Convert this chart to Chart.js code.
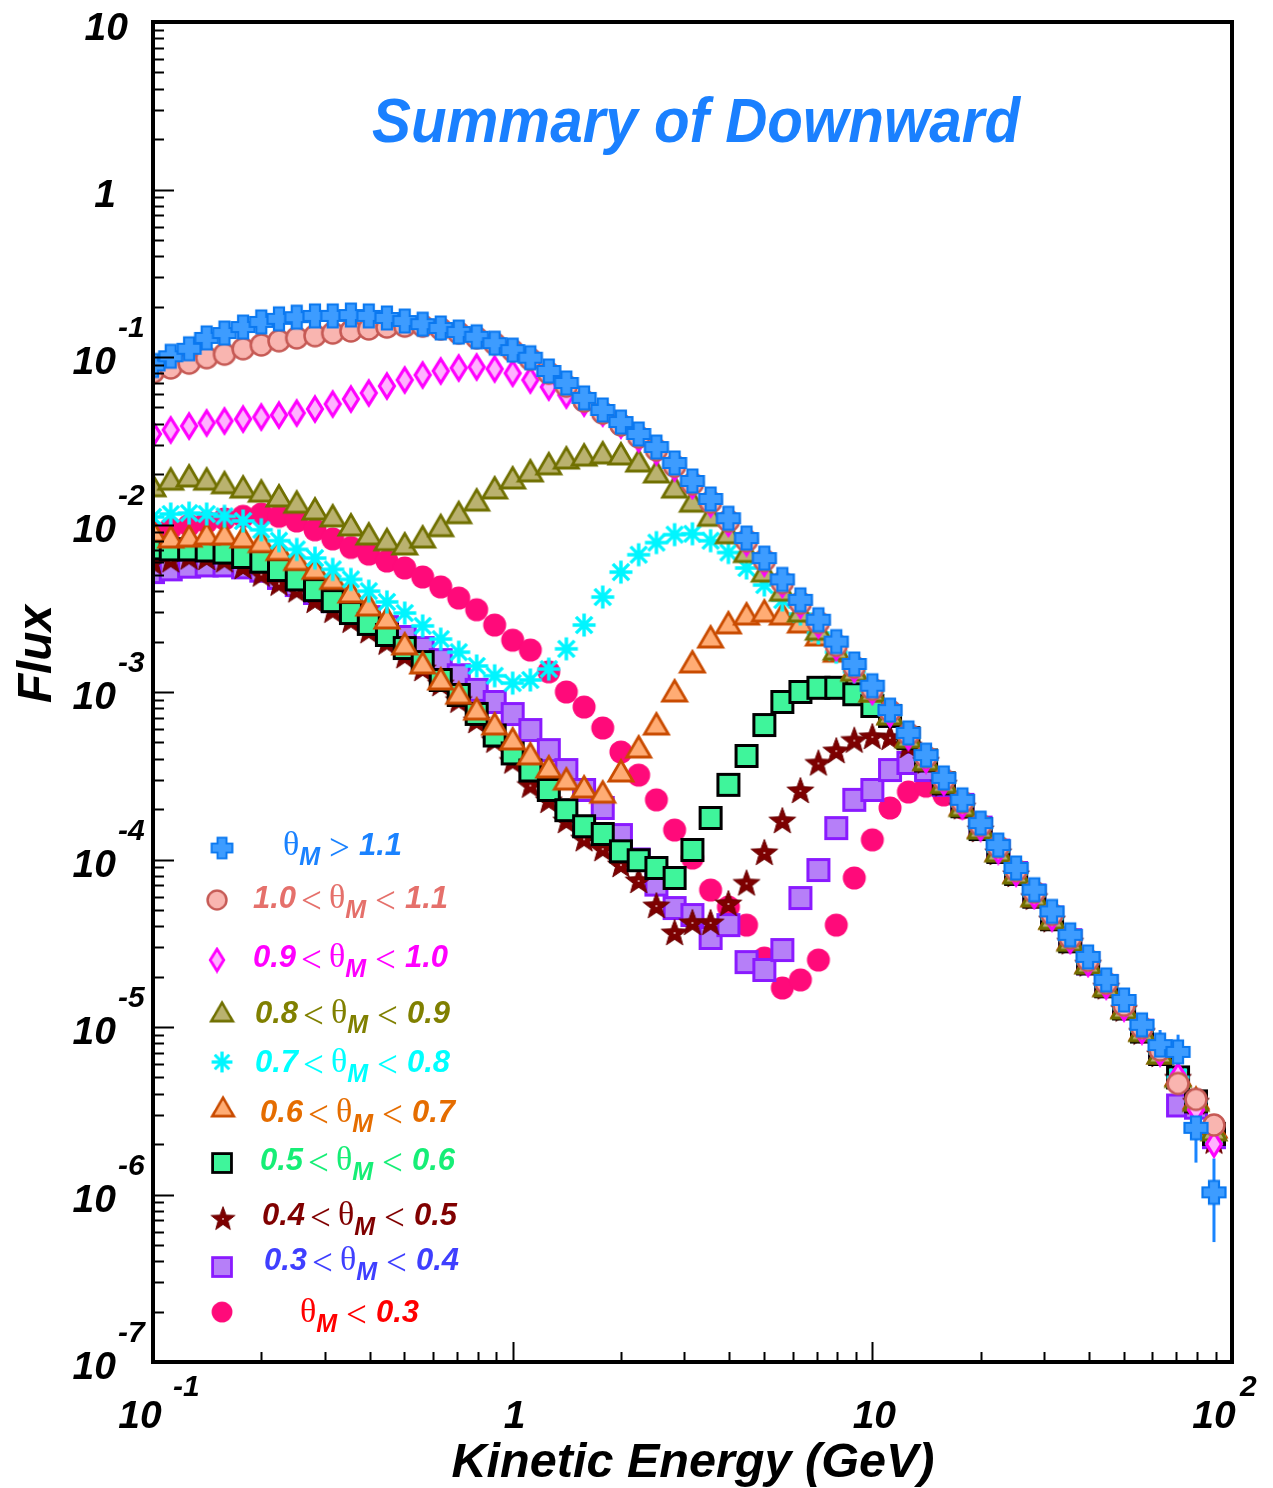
<!DOCTYPE html>
<html>
<head>
<meta charset="utf-8">
<title>Summary of Downward</title>
<script src="https://cdn.jsdelivr.net/npm/chart.js@4.4.1/dist/chart.umd.min.js"></script>
<style>
  html, body { margin: 0; padding: 0; background: #fff; }
  canvas { display: block; }
</style>
</head>
<body>
<canvas id="fluxChart" width="1273" height="1488"></canvas>
<script>
// kinetic energy bin centres (GeV), shared by every theta_M selection
const energy = [
  0.100, 0.112, 0.126, 0.141, 0.158, 0.178, 0.200, 0.224, 0.251, 0.282,
  0.316, 0.355, 0.398, 0.447, 0.501, 0.562, 0.631, 0.708, 0.794, 0.891,
  1.00, 1.12, 1.26, 1.41, 1.58, 1.78, 2.00, 2.24, 2.51, 2.82,
  3.16, 3.55, 3.98, 4.47, 5.01, 5.62, 6.31, 7.08, 7.94, 8.91,
  10.0, 11.2, 12.6, 14.1, 15.8, 17.8, 20.0, 22.4, 25.1, 28.2,
  31.6, 35.5, 39.8, 44.7, 50.1, 56.2, 63.1, 70.8, 79.4, 89.1
];

// downward flux per theta_M bin
const fluxGt11 = [
  0.089, 0.101, 0.112, 0.130, 0.139, 0.151, 0.162, 0.169, 0.173, 0.176,
  0.176, 0.178, 0.176, 0.171, 0.164, 0.157, 0.149, 0.141, 0.132, 0.121,
  0.110, 0.099, 0.0825, 0.070, 0.0570, 0.0483, 0.0409, 0.0347, 0.0290, 0.0233,
  0.0182, 0.0142, 0.0109, 0.0083, 0.0063, 0.0047, 0.00355, 0.0027, 0.0020, 0.00147,
  1.09e-3, 7.8e-4, 5.7e-4, 4.2e-4, 3.07e-4, 2.27e-4, 1.65e-4, 1.22e-4, 8.9e-5, 6.6e-5,
  4.9e-5, 3.55e-5, 2.62e-5, 1.91e-5, 1.45e-5, 1.03e-5, 7.8e-6, 7.1e-6, 2.5e-6, 1.03e-6
];
const flux10to11 = [
  0.081, 0.086, 0.092, 0.099, 0.104, 0.112, 0.118, 0.125, 0.130, 0.134,
  0.139, 0.143, 0.147, 0.151, 0.153, 0.153, 0.147, 0.139, 0.130, 0.120,
  0.109, 0.097, 0.080, 0.067, 0.0546, 0.0463, 0.0393, 0.0333, 0.0279, 0.0223,
  0.0175, 0.0136, 0.0105, 0.0080, 0.0061, 0.0045, 0.0034, 0.0026, 0.0019, 0.00141,
  1.04e-3, 7.7e-4, 5.6e-4, 4.1e-4, 3.0e-4, 2.2e-4, 1.6e-4, 1.19e-4, 8.6e-5, 6.4e-5,
  4.7e-5, 3.4e-5, 2.5e-5, 1.83e-5, 1.35e-5, 9.9e-6, 7.3e-6, 4.6e-6, 3.7e-6, 2.6e-6
];
const flux09to10 = [
  0.0347, 0.0367, 0.0387, 0.0404, 0.0415, 0.0426, 0.0438, 0.0450, 0.0463, 0.0489,
  0.0524, 0.0561, 0.0610, 0.0671, 0.0729, 0.0781, 0.0825, 0.0860, 0.0872, 0.0849,
  0.0800, 0.0729, 0.0662, 0.0593, 0.0531, 0.0463, 0.0393, 0.0325, 0.0272, 0.0218,
  0.0171, 0.0133, 0.0102, 0.0078, 0.0059, 0.0044, 0.0033, 0.00252, 0.00185, 0.00137,
  1.01e-3, 7.4e-4, 5.4e-4, 3.95e-4, 2.9e-4, 2.1e-4, 1.55e-4, 1.13e-4, 8.3e-5, 6.1e-5,
  4.5e-5, 3.3e-5, 2.4e-5, 1.76e-5, 1.3e-5, 9.5e-6, 7.0e-6, 5.1e-6, 3.2e-6, 2.0e-6
];
const flux08to09 = [
  0.0168, 0.0184, 0.0192, 0.0184, 0.0175, 0.0165, 0.0156, 0.0146, 0.0134, 0.0122,
  0.0111, 0.0098, 0.00865, 0.0080, 0.00755, 0.0083, 0.0097, 0.0116, 0.0138, 0.0163,
  0.0187, 0.0206, 0.0227, 0.0246, 0.0256, 0.0264, 0.0260, 0.0236, 0.0203, 0.0165,
  0.0136, 0.0112, 0.0088, 0.0068, 0.0052, 0.0040, 0.0030, 0.00234, 0.00178, 0.00133,
  1.0e-3, 7.3e-4, 5.3e-4, 3.9e-4, 2.85e-4, 2.07e-4, 1.52e-4, 1.11e-4, 8.2e-5, 6.0e-5,
  4.4e-5, 3.25e-5, 2.38e-5, 1.74e-5, 1.28e-5, 9.4e-6, 6.9e-6, 5.0e-6, 3.6e-6, 2.4e-6
];
const flux07to08 = [
  0.0111, 0.01155, 0.0117, 0.01155, 0.0112, 0.0105, 0.0093, 0.0080, 0.0071, 0.0063,
  0.0054, 0.0047, 0.0040, 0.00345, 0.00296, 0.00248, 0.00207, 0.00173, 0.00143, 0.00125,
  0.00113, 0.00118, 0.00137, 0.00181, 0.00251, 0.00369, 0.0052, 0.0066, 0.0078, 0.0087,
  0.0088, 0.0080, 0.0068, 0.0055, 0.00435, 0.00354, 0.00292, 0.00225, 0.00173, 0.00132,
  9.9e-4, 7.3e-4, 5.35e-4, 3.9e-4, 2.88e-4, 2.1e-4, 1.53e-4, 1.12e-4, 8.2e-5, 6.1e-5,
  4.45e-5, 3.3e-5, 2.4e-5, 1.75e-5, 1.29e-5, 9.5e-6, 7.0e-6, 5.0e-6, 3.6e-6, 2.2e-6
];
const flux06to07 = [
  0.0090, 0.0083, 0.0084, 0.00865, 0.00865, 0.0083, 0.0078, 0.0070, 0.0061, 0.0054,
  0.0047, 0.0039, 0.00326, 0.00273, 0.00191, 0.00147, 0.00118, 9.7e-4, 7.8e-4, 6.35e-4,
  5.17e-4, 4.21e-4, 3.52e-4, 2.98e-4, 2.67e-4, 2.49e-4, 3.33e-4, 4.63e-4, 6.35e-4, 1.0e-3,
  0.00149, 0.0021, 0.00255, 0.00288, 0.0030, 0.00288, 0.00258, 0.00216, 0.00173, 0.00135,
  1.0e-3, 7.35e-4, 5.4e-4, 3.9e-4, 2.87e-4, 2.1e-4, 1.54e-4, 1.12e-4, 8.3e-5, 6.0e-5,
  4.4e-5, 3.3e-5, 2.4e-5, 1.75e-5, 1.3e-5, 9.5e-6, 6.9e-6, 5.1e-6, 3.7e-6, 2.5e-6
];
const flux05to06 = [
  0.0072, 0.0071, 0.0071, 0.0070, 0.0068, 0.0064, 0.0060, 0.00535, 0.0047, 0.00406,
  0.00349, 0.00296, 0.00255, 0.00219, 0.00183, 0.00151, 0.00118, 9.6e-4, 7.4e-4, 5.5e-4,
  4.3e-4, 3.4e-4, 2.6e-4, 1.97e-4, 1.58e-4, 1.42e-4, 1.12e-4, 9.9e-5, 8.9e-5, 7.76e-5,
  1.14e-4, 1.77e-4, 2.79e-4, 4.15e-4, 6.35e-4, 8.72e-4, 1.0e-3, 1.06e-3, 1.06e-3, 9.7e-4,
  8.25e-4, 7.2e-4, 5.3e-4, 3.9e-4, 2.85e-4, 2.08e-4, 1.52e-4, 1.11e-4, 8.2e-5, 6.0e-5,
  4.4e-5, 3.25e-5, 2.4e-5, 1.75e-5, 1.29e-5, 9.4e-6, 6.9e-6, 5.0e-6, 3.6e-6, 2.3e-6
];
const flux04to05 = [
  0.0060, 0.0062, 0.00645, 0.0064, 0.0062, 0.00565, 0.0051, 0.0045, 0.0041, 0.00355,
  0.0031, 0.0027, 0.00234, 0.0020, 0.00166, 0.00139, 0.00113, 9.0e-4, 6.8e-4, 5.2e-4,
  3.9e-4, 2.8e-4, 2.27e-4, 1.72e-4, 1.34e-4, 1.17e-4, 9.4e-5, 7.55e-5, 5.35e-5, 3.69e-5,
  4.24e-5, 4.24e-5, 5.5e-5, 7.3e-5, 1.11e-4, 1.72e-4, 2.6e-4, 3.8e-4, 4.5e-4, 5.2e-4,
  5.46e-4, 5.4e-4, 4.83e-4, 3.9e-4, 2.85e-4, 2.08e-4, 1.52e-4, 1.11e-4, 8.2e-5, 6.0e-5,
  4.4e-5, 3.25e-5, 2.4e-5, 1.75e-5, 1.29e-5, 9.4e-6, 6.9e-6, 5.0e-6, 3.6e-6, 2.1e-6
];
const flux03to04 = [
  0.0052, 0.0054, 0.0056, 0.0057, 0.0057, 0.00555, 0.0053, 0.0048, 0.00435, 0.0039,
  0.00349, 0.00313, 0.0028, 0.00244, 0.00213, 0.00183, 0.00155, 0.00126, 0.00103, 8.72e-4,
  7.39e-4, 5.93e-4, 4.5e-4, 3.42e-4, 2.6e-4, 2.03e-4, 1.4e-4, 1.0e-4, 7.08e-5, 5.13e-5,
  4.66e-5, 3.4e-5, 4.06e-5, 2.44e-5, 2.19e-5, 2.88e-5, 5.89e-5, 8.65e-5, 1.54e-4, 2.27e-4,
  2.6e-4, 3.42e-4, 3.77e-4, 3.42e-4, 2.79e-4, 2.12e-4, 1.55e-4, 1.13e-4, 8.3e-5, 6.1e-5,
  4.5e-5, 3.3e-5, 2.4e-5, 1.76e-5, 1.3e-5, 9.5e-6, 7.0e-6, 3.4e-6, 3.3e-6, 2.2e-6
];
const fluxLt03 = [
  0.0090, 0.0095, 0.0099, 0.01035, 0.0108, 0.0112, 0.01155, 0.0112, 0.0105, 0.0093,
  0.0082, 0.0073, 0.00666, 0.00605, 0.0055, 0.00486, 0.00424, 0.00364, 0.0031, 0.00251,
  0.00204, 0.00178, 0.00132, 0.0010, 8.13e-4, 6.1e-4, 4.38e-4, 3.19e-4, 2.27e-4, 1.5e-4,
  1.02e-4, 6.57e-5, 5.2e-5, 4.06e-5, 2.58e-5, 1.71e-5, 1.91e-5, 2.51e-5, 4.06e-5, 7.76e-5,
  1.31e-4, 2.03e-4, 2.53e-4, 2.74e-4, 2.43e-4, 2.03e-4, 1.52e-4, 1.11e-4, 8.2e-5, 6.0e-5,
  4.4e-5, 3.25e-5, 2.4e-5, 1.75e-5, 1.29e-5, 9.4e-6, 6.9e-6, 5.0e-6, 3.6e-6, 2.4e-6
];

// vertical error bars on the last theta_M > 1.1 bins
const errIndex = [56, 57, 58, 59];
const errLow = [6.2e-6, 5.4e-6, 1.55e-6, 5.2e-7];
const errHigh = [9.6e-6, 9.0e-6, 3.4e-6, 1.64e-6];

// theta_M cuts for the legend
const cutLow = ['1.1', '1.0', '0.9', '0.8', '0.7', '0.6', '0.5', '0.4', '0.3', null];
const cutHigh = [null, '1.1', '1.0', '0.9', '0.8', '0.7', '0.6', '0.5', '0.4', '0.3'];
const seriesFlux = [fluxGt11, flux10to11, flux09to10, flux08to09, flux07to08,
                    flux06to07, flux05to06, flux04to05, flux03to04, fluxLt03];

// ---- marker bitmaps ----
function markerCanvas(size, paint) {
  const c = document.createElement('canvas');
  c.width = size;
  c.height = size;
  const g = c.getContext('2d');
  g.translate(size / 2, size / 2);
  paint(g);
  return c;
}

function poly(g, pts) {
  g.beginPath();
  pts.forEach(([x, y], i) => (i ? g.lineTo(x, y) : g.moveTo(x, y)));
  g.closePath();
}

function fillStroke(g, fill, stroke, lw) {
  if (fill) { g.fillStyle = fill; g.fill(); }
  if (stroke) { g.lineWidth = lw; g.strokeStyle = stroke; g.stroke(); }
}

function triangle(fill, stroke) {
  return markerCanvas(30, g => {
    poly(g, [[0, -11.5], [12, 9], [-12, 9]]);
    fillStroke(g, fill, stroke, 2.8);
  });
}

function square(fill, stroke) {
  return markerCanvas(28, g => {
    g.beginPath();
    g.rect(-10.5, -10.5, 21, 21);
    fillStroke(g, fill, stroke, 3);
  });
}

const plusMark = markerCanvas(28, g => {
  const a = 5, l = 11.5;
  poly(g, [[-a, -l], [a, -l], [a, -a], [l, -a], [l, a], [a, a], [a, l], [-a, l],
           [-a, a], [-l, a], [-l, -a], [-a, -a]]);
  fillStroke(g, '#3d9cff', '#0a78f0', 2.2);
});

const ringMark = markerCanvas(28, g => {
  g.beginPath();
  g.arc(0, 0, 10.5, 0, Math.PI * 2);
  fillStroke(g, '#f9b5b0', '#c65a55', 2.6);
});

const diamondMark = markerCanvas(30, g => {
  poly(g, [[0, -12], [7.5, 0], [0, 12], [-7.5, 0]]);
  fillStroke(g, '#ffb2ff', '#ff00ff', 3.2);
});

const asteriskMark = markerCanvas(30, g => {
  g.strokeStyle = '#00f5ff';
  g.lineWidth = 3.5;
  g.beginPath();
  for (let k = 0; k < 4; k++) {
    const a = k * Math.PI / 4;
    g.moveTo(-11.5 * Math.cos(a), -11.5 * Math.sin(a));
    g.lineTo(11.5 * Math.cos(a), 11.5 * Math.sin(a));
  }
  g.stroke();
});

const starMark = markerCanvas(32, g => {
  const pts = [];
  for (let k = 0; k < 10; k++) {
    const r = k % 2 ? 5.8 : 14;
    const a = -Math.PI / 2 + k * Math.PI / 5;
    pts.push([r * Math.cos(a), r * Math.sin(a) + 1.5]);
  }
  poly(g, pts);
  fillStroke(g, '#7d0000', '#6a0000', 1);
  g.fillStyle = '#c98a8a';
  g.fillRect(-1, 0, 2, 2);
});

const dotMark = markerCanvas(28, g => {
  g.beginPath();
  g.arc(0, 0, 11.5, 0, Math.PI * 2);
  fillStroke(g, '#ff0a7a', null, 0);
});

const seriesMarker = [plusMark, ringMark, diamondMark,
  triangle('#bab26f', '#707000'), asteriskMark, triangle('#ffac74', '#c94b00'),
  square('#3ff59b', '#000000'), starMark, square('#b67ff8', '#8a1aff'), dotMark];

const legendColor = ['#1a82ff', '#e5706b', '#ff00ff', '#808000', '#00ffff',
                     '#e56d00', '#16ee76', '#800000', '#3f3fff', '#ff0000'];

// legend layout: symbol centre, text start, text baseline
const legendRows = [
  { sx: 222, sy: 848, tx: 283, ty: 855 },
  { sx: 217, sy: 900, tx: 253, ty: 908 },
  { sx: 217, sy: 960, tx: 253, ty: 967 },
  { sx: 222, sy: 1013, tx: 255, ty: 1023 },
  { sx: 222, sy: 1062, tx: 255, ty: 1072 },
  { sx: 223, sy: 1108, tx: 260, ty: 1122 },
  { sx: 222, sy: 1163, tx: 260, ty: 1170 },
  { sx: 223, sy: 1218, tx: 262, ty: 1225 },
  { sx: 222, sy: 1267, tx: 264, ty: 1270 },
  { sx: 222, sy: 1312, tx: 300, ty: 1322 }
];

const SANS = '"Liberation Sans", Arial, Helvetica, sans-serif';
const SERIF = '"Liberation Serif", "Times New Roman", serif';

function fitText(ctx, text, cx, y, width) {
  const w = ctx.measureText(text).width;
  ctx.save();
  ctx.translate(cx, y);
  ctx.scale(width / w, 1);
  ctx.textAlign = 'center';
  ctx.fillText(text, 0, 0);
  ctx.restore();
}

// draws pieces left to right: [font, text, dy, gap after]
function drawRun(ctx, x, y, parts) {
  ctx.textAlign = 'left';
  for (const [font, text, dy, gap] of parts) {
    ctx.font = font;
    ctx.fillText(text, x, y + (dy || 0));
    x += ctx.measureText(text).width + (gap || 0);
  }
}

const fNum = 'italic bold 31px ' + SANS;
const fRel = '37px ' + SERIF;
const fTheta = '34px ' + SERIF;
const fSub = 'italic bold 25px ' + SANS;

const decorations = {
  id: 'decorations',
  beforeDraw(chart) {
    const ctx = chart.ctx;
    ctx.save();
    ctx.fillStyle = '#ffffff';
    ctx.fillRect(0, 0, chart.width, chart.height);
    ctx.restore();
  },
  beforeDatasetsDraw(chart) {
    const ctx = chart.ctx;
    const xs = chart.scales.x, ys = chart.scales.y;
    ctx.save();
    ctx.strokeStyle = '#1a85ff';
    ctx.lineWidth = 3;
    errIndex.forEach((idx, k) => {
      const x = xs.getPixelForValue(energy[idx]);
      ctx.beginPath();
      ctx.moveTo(x, ys.getPixelForValue(errLow[k]));
      ctx.lineTo(x, ys.getPixelForValue(errHigh[k]));
      ctx.stroke();
    });
    ctx.restore();
  },
  afterDraw(chart) {
    const ctx = chart.ctx;
    const { left, right, top, bottom } = chart.chartArea;
    const xs = chart.scales.x, ys = chart.scales.y;
    ctx.save();

    // inward ticks on the left and bottom axes
    ctx.strokeStyle = '#000';
    ctx.lineWidth = 2;
    ctx.beginPath();
    for (let e = -7; e <= 0; e++) {
      for (let m = 1; m <= 9; m++) {
        const y = Math.round(ys.getPixelForValue(m * Math.pow(10, e))) + 0.5;
        ctx.moveTo(left, y);
        ctx.lineTo(left + (m === 1 ? 21 : 11), y);
      }
    }
    for (let e = -1; e <= 1; e++) {
      for (let m = 1; m <= 9; m++) {
        const x = Math.round(xs.getPixelForValue(m * Math.pow(10, e))) + 0.5;
        ctx.moveTo(x, bottom);
        ctx.lineTo(x, bottom - (m === 1 ? 20 : 10));
      }
    }
    ctx.stroke();

    // frame
    ctx.lineWidth = 4;
    ctx.strokeRect(left, top, right - left, bottom - top);

    // y tick labels
    ctx.fillStyle = '#000';
    const fBase = 'italic bold 39px ' + SANS;
    const fExp = 'italic bold 30px ' + SANS;
    for (let e = -7; e <= 1; e++) {
      const y = ys.getPixelForValue(Math.pow(10, e));
      ctx.font = fBase;
      ctx.textAlign = 'right';
      if (e === 1) {
        ctx.fillText('10', 128, y + 18);
      } else if (e === 0) {
        ctx.fillText('1', 116, y + 17);
      } else {
        ctx.fillText('10', 116, y + 17);
        ctx.font = fExp;
        ctx.textAlign = 'left';
        ctx.fillText(String(e), 118, y - 20);
      }
    }

    // x tick labels
    const xl = bottom + 66, xe = bottom + 34;
    ctx.font = fBase;
    ctx.textAlign = 'center';
    ctx.fillText('10', xs.getPixelForValue(0.1) - 13, xl);
    ctx.fillText('1', xs.getPixelForValue(1) + 2, xl);
    ctx.fillText('10', xs.getPixelForValue(10) + 2, xl);
    ctx.fillText('10', xs.getPixelForValue(100) - 18, xl);
    ctx.font = fExp;
    ctx.textAlign = 'left';
    ctx.fillText('-1', xs.getPixelForValue(0.1) + 20, xe);
    ctx.fillText('2', xs.getPixelForValue(100) + 8, xe);

    // title and axis titles
    ctx.fillStyle = '#1a80ff';
    ctx.font = 'italic bold 63px ' + SANS;
    fitText(ctx, 'Summary of Downward', 696, 142, 648);

    ctx.fillStyle = '#000';
    ctx.font = 'italic bold 49px ' + SANS;
    fitText(ctx, 'Kinetic Energy (GeV)', 693, 1477, 483);

    ctx.save();
    ctx.translate(51, 654);
    ctx.rotate(-Math.PI / 2);
    ctx.font = 'italic bold 48px ' + SANS;
    fitText(ctx, 'Flux', 0, 0, 98);
    ctx.restore();

    // legend
    legendRows.forEach((row, i) => {
      const img = seriesMarker[i];
      ctx.save();
      ctx.translate(row.sx, row.sy);
      ctx.scale(0.9, 0.9);
      ctx.drawImage(img, -img.width / 2, -img.height / 2);
      ctx.restore();
      ctx.fillStyle = legendColor[i];
      const parts = [];
      if (cutLow[i] && cutHigh[i]) {
        parts.push([fNum, cutLow[i], 0, 5], [fRel, '<', 5, 7]);
      }
      parts.push([fTheta, 'θ', 0, 0], [fSub, 'M', 10, 9]);
      if (!cutHigh[i]) {
        parts.push([fRel, '>', 5, 9], [fNum, cutLow[i], 0, 0]);
      } else {
        parts.push([fRel, '<', 5, 9], [fNum, cutHigh[i], 0, 0]);
      }
      drawRun(ctx, row.tx, row.ty, parts);
    });

    ctx.restore();
  }
};

const datasets = seriesFlux.map((flux, i) => ({
  label: (cutLow[i] || '') + '-' + (cutHigh[i] || ''),
  data: energy.map((e, k) => ({ x: e, y: flux[k] })),
  pointStyle: seriesMarker[i],
  pointRadius: 11,
  pointHoverRadius: 11,
  showLine: false,
  clip: 0
}));

new Chart(document.getElementById('fluxChart').getContext('2d'), {
  type: 'scatter',
  data: { datasets: datasets },
  options: {
    responsive: false,
    animation: false,
    devicePixelRatio: 1,
    events: [],
    layout: { padding: { left: 153, top: 22, right: 41, bottom: 126 } },
    scales: {
      x: { type: 'logarithmic', min: 0.1, max: 100, display: false },
      y: { type: 'logarithmic', min: 1e-7, max: 10, display: false }
    },
    plugins: {
      legend: { display: false },
      tooltip: { enabled: false }
    }
  },
  plugins: [decorations]
});
</script>
</body>
</html>
